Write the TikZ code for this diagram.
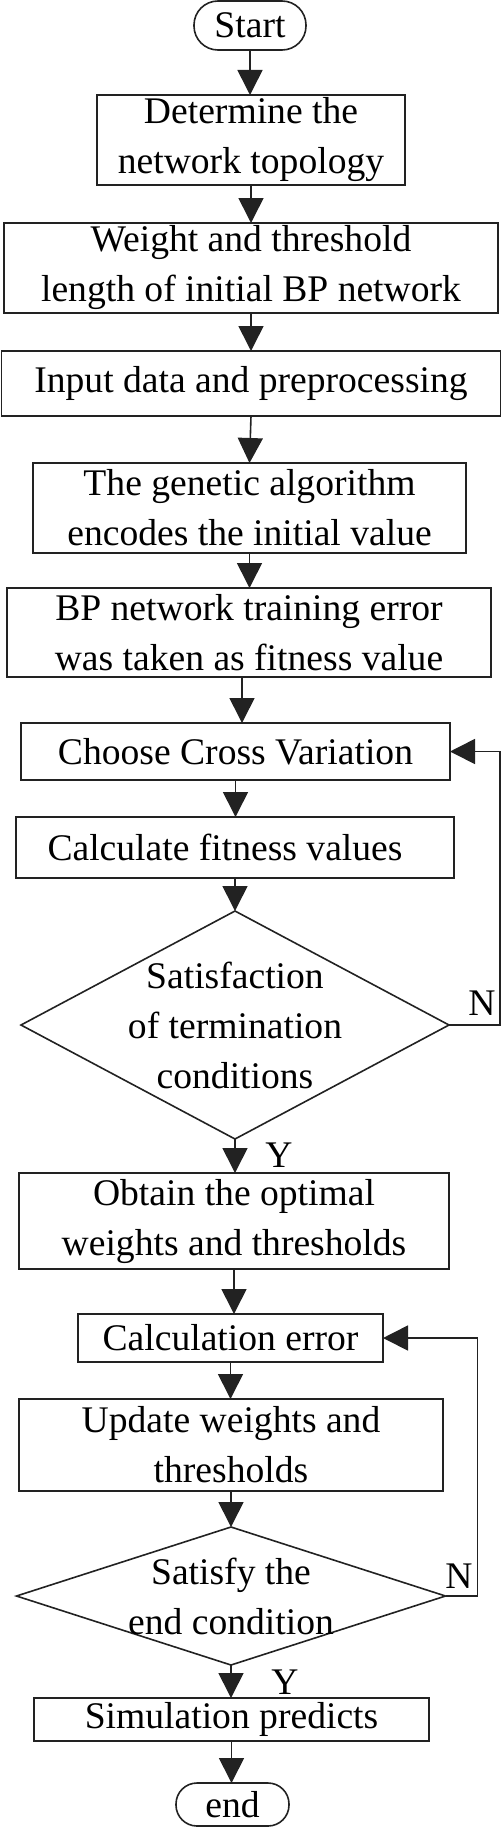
\documentclass[tikz,border=0pt]{standalone}
\usepackage{fontspec}
\setmainfont{Liberation Serif}
\usetikzlibrary{shapes.geometric,arrows.meta}
\definecolor{ink}{HTML}{222222}
\begin{document}
\begin{tikzpicture}[x=1pt,y=-1pt,
  every node/.style={font=\fontsize{37.6}{50}\selectfont, text=black, inner sep=0pt, outer sep=0pt},
  box/.style={draw=ink, line width=1.6pt, rectangle, align=center},
  term/.style={draw=ink, line width=1.6pt, rectangle},
  dec/.style={draw=ink, line width=1.6pt, diamond, inner sep=0pt},
  arr/.style={draw=ink, line width=1.6pt, -{Triangle[width=25pt,length=25pt]}}
]
\useasboundingbox (0,0) rectangle (502,1828);

\node[term, rounded corners=24pt, minimum width=112pt, minimum height=49pt] (start) at (250,25.5) {Start};
\node[box, minimum width=308pt, minimum height=90pt] (b1) at (251,140) {Determine the\\network topology};
\node[box, minimum width=494pt, minimum height=90pt] (b2) at (251,268) {Weight and threshold\\length of initial BP network};
\node[box, minimum width=499pt, minimum height=65pt] (b3) at (251,383.5) {Input data and preprocessing};
\node[box, minimum width=433pt, minimum height=90pt] (b4) at (249.5,508) {The genetic algorithm\\encodes the initial value};
\node[box, minimum width=484pt, minimum height=89pt] (b5) at (249,632.5) {BP network training error\\was taken as fitness value};
\node[box, minimum width=429pt, minimum height=57pt] (b6) at (235.5,751.5) {Choose Cross Variation};
\node[box, minimum width=438pt, minimum height=61pt] (b7) at (235,847.5) {\hspace*{-20pt}Calculate fitness values};
\node[dec, minimum width=428pt, minimum height=228pt,
  label={[align=center]center:Satisfaction\\of termination\\conditions}] (d1) at (235,1025) {};
\node[box, minimum width=430pt, minimum height=96pt] (b8) at (234,1221) {Obtain the optimal\\weights and thresholds};
\node[box, minimum width=305pt, minimum height=48pt] (b9) at (230.5,1338) {Calculation error};
\node[box, minimum width=424pt, minimum height=92pt] (b10) at (231,1445) {Update weights and\\thresholds};
\node[dec, minimum width=429pt, minimum height=138pt,
  label={[align=center]center:Satisfy the\\end condition}] (d2) at (231,1596) {};
\node[box, minimum width=395pt, minimum height=43pt] (b11) at (231.5,1719.5) {Simulation predicts};
\node[term, rounded corners=21pt, minimum width=113pt, minimum height=43pt] (end) at (232.5,1804.5) {end};

\node (n1) at (482,1003) {N};
\node (n2) at (459,1576) {N};
\node (y1) at (279,1155) {Y};
\node (y2) at (285,1682) {Y};

\draw[arr] (start.south) -- (start.south |- b1.north);
\draw[arr] (b1.south) -- (b1.south |- b2.north);
\draw[arr] (b2.south) -- (b2.south |- b3.north);
\draw[arr] (b3.south) -- (b4.north);
\draw[arr] (b4.south) -- (b4.south |- b5.north);
\draw[arr] ([xshift=-7pt]b5.south) -- ([xshift=-7pt]b5.south |- b6.north);
\draw[arr] (b6.south) -- (b6.south |- b7.north);
\draw[arr] (b7.south) -- (d1.north);
\draw[arr] (d1.south) -- (d1.south |- b8.north);
\draw[arr] (b8.south) -- (b8.south |- b9.north);
\draw[arr] (b9.south) -- (b9.south |- b10.north);
\draw[arr] (b10.south) -- (d2.north);
\draw[arr] (d2.south) -- (d2.south |- b11.north);
\draw[arr] (b11.south) -- (b11.south |- end.north);

\draw[arr] (d1.east) -- ++(51,0) |- (b6.east);
\draw[arr] (d2.east) -- ++(32,0) |- (b9.east);
\end{tikzpicture}
\end{document}
